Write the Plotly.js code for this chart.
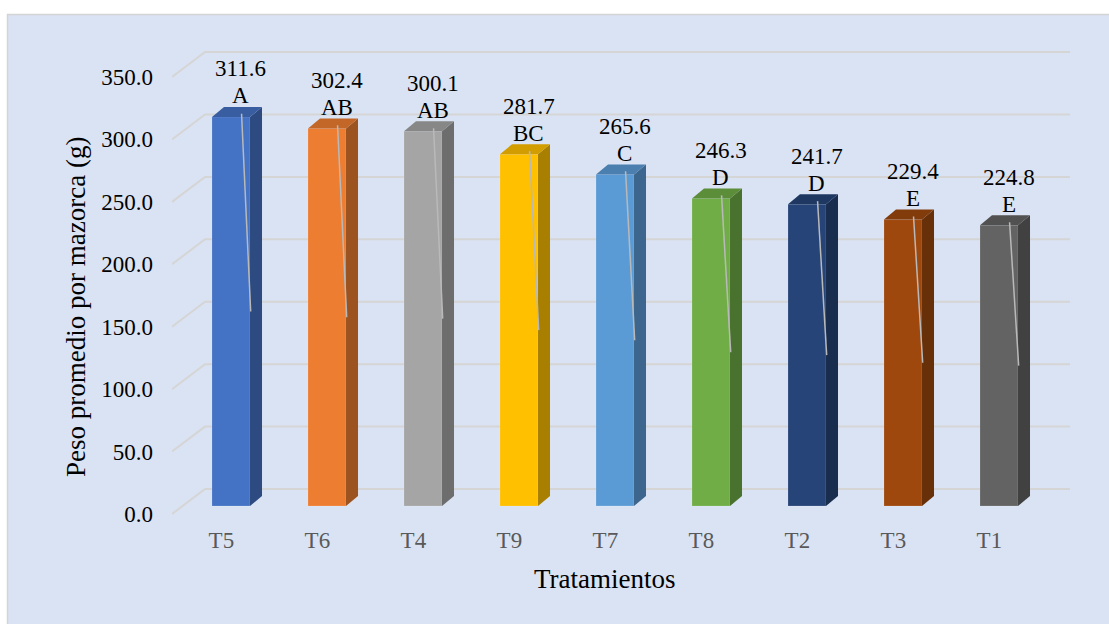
<!DOCTYPE html>
<html>
<head>
<meta charset="utf-8">
<script src="https://cdn.plot.ly/plotly-3.0.1.min.js"></script>
<style>
html,body{margin:0;padding:0;overflow:hidden;background:#ffffff;}
#chart{width:1109px;height:624px;}
</style>
</head>
<body>
<div id="chart"></div>
<script>
// ---- data ----
const categories = ['T5','T6','T4','T9','T7','T8','T2','T3','T1'];
const values = [311.6, 302.4, 300.1, 281.7, 265.6, 246.3, 241.7, 229.4, 224.8];
const letters = ['A','AB','AB','BC','C','D','D','E','E'];
const yTicks = [0, 50, 100, 150, 200, 250, 300, 350];
const frontColors = ['#4472c4','#ed7d31','#a5a5a5','#ffc000','#5b9bd5','#70ad47','#264478','#9e480e','#636363'];

// ---- 3D geometry (axis units) ----
const FONT = "'Liberation Serif', 'Times New Roman', serif";
const BASE = 6.4;        // bars sit recessed from the front floor
const HALF = 0.198;      // half width of bar front face
const DDX = 0.125, DDY = 8;   // bar depth offset
const WALL_DX = 0.344, WALL_DY = 20; // back-wall offset
const X_MIN = -0.6146, X_MAX = 8.7917, WALL_END = 8.74;

// plot area in pixels
const PL = 172, PR = 1075, PT = 46, PB = 520;
const PPU = 1.2486, Y0PX = 514;
const yRange = [(Y0PX-PB)/PPU, (Y0PX-PT)/PPU];
function px2paperX(p){ return (p-PL)/(PR-PL); }
function px2paperY(p){ return (PB-p)/(PB-PT); }

function shade(hex, f){
  const n = parseInt(hex.slice(1),16);
  const r = Math.round(((n>>16)&255)*f), g = Math.round(((n>>8)&255)*f), b = Math.round((n&255)*f);
  return 'rgb('+r+','+g+','+b+')';
}

const idx = categories.map((c,i)=>i);
const traces = [];

// front faces
traces.push({
  type:'bar', x: idx, y: values, base: BASE, width: 2*HALF,
  marker:{color: frontColors, line:{color:'rgba(255,255,255,0.25)', width:0.6}},
  hoverinfo:'skip', showlegend:false
});

// side + top faces
values.forEach((v,i)=>{
  const top = v + BASE;
  const xr = i + HALF, xl = i - HALF;
  traces.push({
    type:'scatter', mode:'lines', fill:'toself',
    x:[xr, xr, xr+DDX, xr+DDX, xr], y:[BASE, top, top+DDY, BASE+DDY, BASE],
    fillcolor: shade(frontColors[i], 0.66), line:{width:0, color:shade(frontColors[i],0.66)},
    hoverinfo:'skip', showlegend:false
  });
  traces.push({
    type:'scatter', mode:'lines', fill:'toself',
    x:[xl, xr, xr+DDX, xl+DDX, xl], y:[top, top, top+DDY, top+DDY, top],
    fillcolor: shade(frontColors[i], 0.82), line:{width:0, color:shade(frontColors[i],0.82)},
    hoverinfo:'skip', showlegend:false
  });
});

// leader lines
const lx = [], ly = [];
values.forEach((v,i)=>{
  const top = v + BASE;
  lx.push(i + 0.11, i + 0.205, null);
  ly.push(top + 2.5, (BASE + top)/2, null);
});
traces.push({type:'scatter', mode:'lines', x:lx, y:ly,
  line:{color:'#b9b9b9', width:1.5}, hoverinfo:'skip', showlegend:false, connectgaps:false});

// shapes: chart frame + back-wall gridlines
const shapes = [{
  type:'rect', xref:'paper', yref:'paper', layer:'below',
  x0:px2paperX(7.5), x1:px2paperX(1140), y0:px2paperY(660), y1:px2paperY(14.5),
  fillcolor:'#dae3f3', line:{color:'#d4d4d4', width:1.5}
}];
yTicks.forEach(t=>{
  shapes.push({
    type:'path', xref:'x', yref:'y', layer:'below',
    path:'M '+X_MIN+','+t+' L '+(X_MIN+WALL_DX)+','+(t+WALL_DY)+' L '+WALL_END+','+(t+WALL_DY),
    line:{color:'#d5d5d5', width:2}
  });
});

// annotations: data labels, letters, axis titles
const annotations = [];
values.forEach((v,i)=>{
  const top = v + BASE;
  annotations.push({x:i+0.1, y:top, xref:'x', yref:'y', text:v.toFixed(1), showarrow:false,
    yshift:48, yanchor:'middle', font:{family:FONT, size:23, color:'#000'}});
  annotations.push({x:i+0.1, y:top, xref:'x', yref:'y', text:letters[i], showarrow:false,
    yshift:21, yanchor:'middle', font:{family:FONT, size:23, color:'#000'}});
});
annotations.push({xref:'paper', yref:'paper', x:px2paperX(605), y:px2paperY(579),
  text:'Tratamientos', showarrow:false, xanchor:'center', yanchor:'middle',
  font:{family:FONT, size:27, color:'#000'}});
annotations.push({xref:'paper', yref:'paper', x:px2paperX(76), y:px2paperY(307),
  text:'Peso promedio por mazorca (g)', textangle:-90, showarrow:false, xanchor:'center', yanchor:'middle',
  font:{family:FONT, size:27, color:'#000'}});

const layout = {
  width:1109, height:624,
  margin:{l:PL, r:1109-PR, t:PT, b:624-PB, pad:0},
  paper_bgcolor:'#ffffff', plot_bgcolor:'rgba(0,0,0,0)',
  showlegend:false,
  bargap:0,
  xaxis:{range:[X_MIN, X_MAX], tickvals: idx.map(i=>i-0.1), ticktext: categories,
    showgrid:false, zeroline:false, showline:false, ticks:'', ticklabelstandoff:4,
    tickfont:{family:FONT, size:23, color:'#595959'}, fixedrange:true},
  yaxis:{range:yRange, tickvals: yTicks, tickformat:'.1f',
    showgrid:false, zeroline:false, showline:false, ticks:'', ticklabelstandoff:18,
    tickfont:{family:FONT, size:23, color:'#000'}, fixedrange:true},
  shapes: shapes,
  annotations: annotations
};

Plotly.newPlot('chart', traces, layout, {displayModeBar:false, staticPlot:true});
</script>
</body>
</html>
